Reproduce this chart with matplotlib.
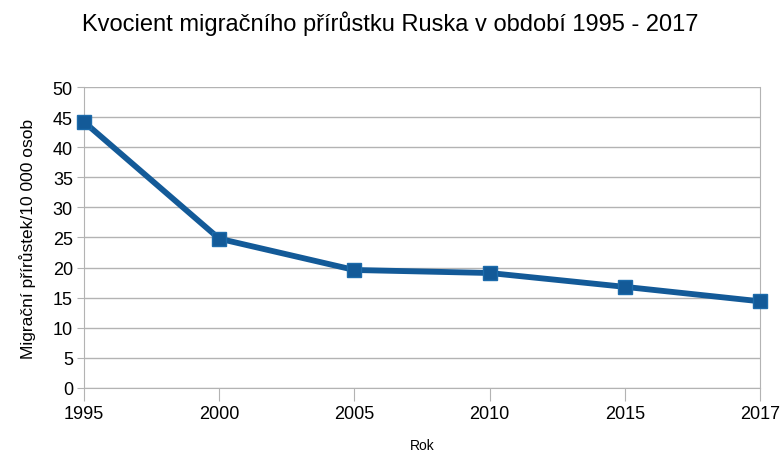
import matplotlib.pyplot as plt

plt.rcParams['font.family'] = ['Liberation Sans', 'DejaVu Sans']

years = ['1995', '2000', '2005', '2010', '2015', '2017']
values = [44.2, 24.8, 19.6, 19.1, 16.8, 14.4]
yticks = list(range(0, 51, 5))

fig = plt.figure(figsize=(7.81, 4.56), dpi=100)
ax = fig.add_axes([0.1076, 0.147, 0.8654, 0.66])

x = range(len(years))
ax.plot(x, values, color='#135a98', linewidth=4.2, marker='s', markersize=10,
        markerfacecolor='#135a98', markeredgecolor='#1d6bab', zorder=3, clip_on=False)

ax.set_xlim(0, len(years) - 1)
ax.set_ylim(0, 50)
ax.set_xticks(list(x))
ax.set_xticklabels(years)
ax.set_yticks(yticks)
ax.tick_params(axis='both', labelsize=13, colors='#b3b3b3', labelcolor='black')
ax.tick_params(axis='x', length=9, pad=3)
ax.tick_params(axis='y', length=5, pad=3)
ax.grid(axis='y', color='#b3b3b3', linewidth=1)
ax.set_axisbelow(True)
ax.spines['top'].set_visible(False)
ax.spines['left'].set_color('#b3b3b3')
ax.spines['bottom'].set_color('#b3b3b3')
ax.spines['right'].set_color('#b3b3b3')

ax.set_xlabel('Rok', fontsize=10, labelpad=12)
ax.set_ylabel('Migrační přírůstek/10 000 osob', fontsize=12.5, labelpad=12)
fig.suptitle('Kvocient migračního přírůstku Ruska v období 1995 - 2017', fontsize=17, y=0.975)

fig.savefig('out.png', dpi=100)
